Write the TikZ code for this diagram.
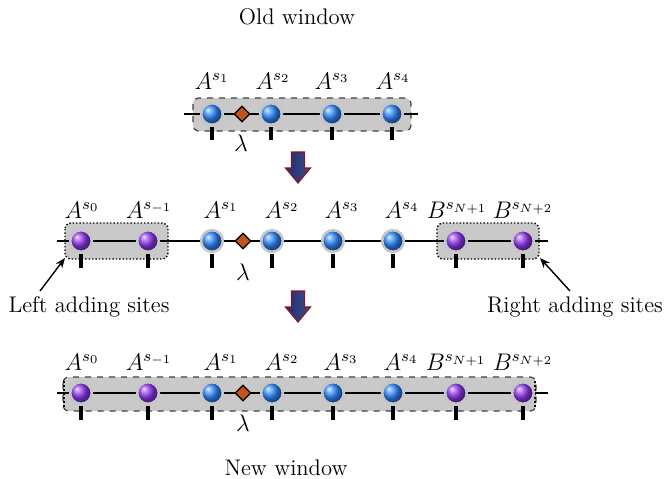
\documentclass[tikz,border=0pt]{standalone}
\usetikzlibrary{shapes.geometric,arrows.meta}
\definecolor{siteblue}{RGB}{45,135,255}
\definecolor{sitepurple}{RGB}{145,55,240}
\definecolor{lambdabrown}{RGB}{190,85,25}
\definecolor{arrowrim}{RGB}{140,20,35}
\definecolor{arrowdark}{RGB}{30,45,115}
\definecolor{arrowlight}{RGB}{125,150,210}
\newcommand{\txtsize}{\fontsize{11.3}{13.5}\selectfont}
\tikzset{
  site/.style={circle,inner sep=0pt,minimum size=10.8pt,draw=gray!45,line width=1.3pt},
  asite/.style={site,ball color=siteblue},
  bsite/.style={site,ball color=sitepurple},
  lam/.style={diamond,draw=black,line width=0.6pt,fill=lambdabrown,inner sep=0pt,minimum size=8pt},
  bond/.style={line width=1pt},
  leg/.style={line width=1.6pt},
  winbox/.style={fill=gray!42,draw=black!75,dashed,line width=0.6pt,rounded corners=3pt},
  addbox/.style={fill=gray!42,draw=black,densely dotted,line width=0.7pt,rounded corners=3pt},
  lbl/.style={font=\large,inner sep=0pt},
  txt/.style={font=\txtsize,inner sep=0pt},
  downarrow/.style={draw=arrowrim,line width=0.6pt,line join=miter,
    left color=arrowdark,middle color=arrowlight,right color=arrowdark!85},
  pointer/.style={-{Stealth[length=5pt,width=4pt]},line width=0.7pt}
}
% block arrow pointing down, top centre at #1
\newcommand{\blockdown}[1]{%
  \shadedraw[downarrow] (#1) ++(-6.5,0) -- ++(13,0) -- ++(0,16) -- ++(6,0)
    -- ++(-12.5,15) -- ++(-12.5,-15) -- ++(6,0) -- cycle;}
\begin{document}
\begin{tikzpicture}[x=0.5pt,y=-0.5pt]
\useasboundingbox (0,0) rectangle (665,478);

% ---------- old window ----------
\node[txt] (oldt) at (297,17) {Old window};
\draw[winbox] (193,98) rectangle (411,131);
\coordinate (tL) at (184,114);
\coordinate (tR) at (418,114);
\draw[bond] (tL) -- (tR);
\foreach \n/\x in {1/212,2/271,3/332,4/392}{
  \node[asite] (t\n) at (\x,114) {};
  \coordinate (tf\n) at (\x,140);
  \draw[leg] (\x,127) -- (tf\n);
}
\node[lam] (tlam) at (242,114) {};
\node[lbl] (tlamt) at (241,143) {$\lambda$};
\node[lbl] at (212,81) {$A^{s_1}$};
\node[lbl] at (273,81) {$A^{s_2}$};
\node[lbl] at (332,81) {$A^{s_3}$};
\node[lbl] at (393,81) {$A^{s_4}$};

\coordinate (arr1) at (298,152);
\blockdown{arr1}

% ---------- enlarged chain ----------
\draw[addbox] (65,223) rectangle (168,259);
\draw[addbox] (437,223) rectangle (539,259);
\coordinate (mL) at (57,241);
\coordinate (mR) at (548,241);
\draw[bond] (mL) -- (mR);
\foreach \n/\x/\s in {1/81/bsite,2/148/bsite,3/212/asite,4/272/asite,5/333/asite,6/393/asite,7/456/bsite,8/523/bsite}{
  \node[\s] (m\n) at (\x,241) {};
  \coordinate (mf\n) at (\x,268);
  \draw[leg] (\x,254) -- (mf\n);
}
\node[lam] (mlam) at (243,241) {};
\node[lbl] (mlamt) at (243,272) {$\lambda$};
\node[lbl] at (82,210) {$A^{s_0}$};
\node[lbl] at (149,210) {$A^{s_{-1}}$};
\node[lbl] at (221,210) {$A^{s_1}$};
\node[lbl] at (282,210) {$A^{s_2}$};
\node[lbl] at (342,210) {$A^{s_3}$};
\node[lbl] at (402,210) {$A^{s_4}$};
\node[lbl] at (457,210) {$B^{s_{N+1}}$};
\node[lbl] at (523,210) {$B^{s_{N+2}}$};

\node[txt] (lefts) at (89,307) {Left adding sites};
\node[txt] (rights) at (575,307) {Right adding sites};
\coordinate (lbox) at (65,258);
\coordinate (rbox) at (540,258);
\coordinate (lp) at (40,291);
\coordinate (rp) at (570,291);
\draw[pointer] (lp) -- (lbox);
\draw[pointer] (rp) -- (rbox);

\coordinate (arr2) at (298,291);
\blockdown{arr2}

% ---------- new window ----------
\draw[winbox] (63,377) rectangle (536,411);
\draw[densely dotted,line width=1pt] (64,381) -- (64,407);
\draw[densely dotted,line width=1pt] (535,381) -- (535,407);
\coordinate (bL) at (57,393);
\coordinate (bR) at (548,393);
\draw[bond] (bL) -- (bR);
\foreach \n/\x/\s in {1/81/bsite,2/148/bsite,3/212/asite,4/272/asite,5/333/asite,6/393/asite,7/456/bsite,8/523/bsite}{
  \node[\s] (b\n) at (\x,393) {};
  \coordinate (bf\n) at (\x,420);
  \draw[leg] (\x,406) -- (bf\n);
}
\node[lam] (blam) at (243,393) {};
\node[lbl] (blamt) at (243,423) {$\lambda$};
\node[lbl] at (82,362) {$A^{s_0}$};
\node[lbl] at (149,362) {$A^{s_{-1}}$};
\node[lbl] at (221,362) {$A^{s_1}$};
\node[lbl] at (282,362) {$A^{s_2}$};
\node[lbl] at (341,362) {$A^{s_3}$};
\node[lbl] at (401,362) {$A^{s_4}$};
\node[lbl] at (456,362) {$B^{s_{N+1}}$};
\node[lbl] at (523,362) {$B^{s_{N+2}}$};

\node[txt] (newt) at (286,468) {New window};
\end{tikzpicture}
\end{document}
